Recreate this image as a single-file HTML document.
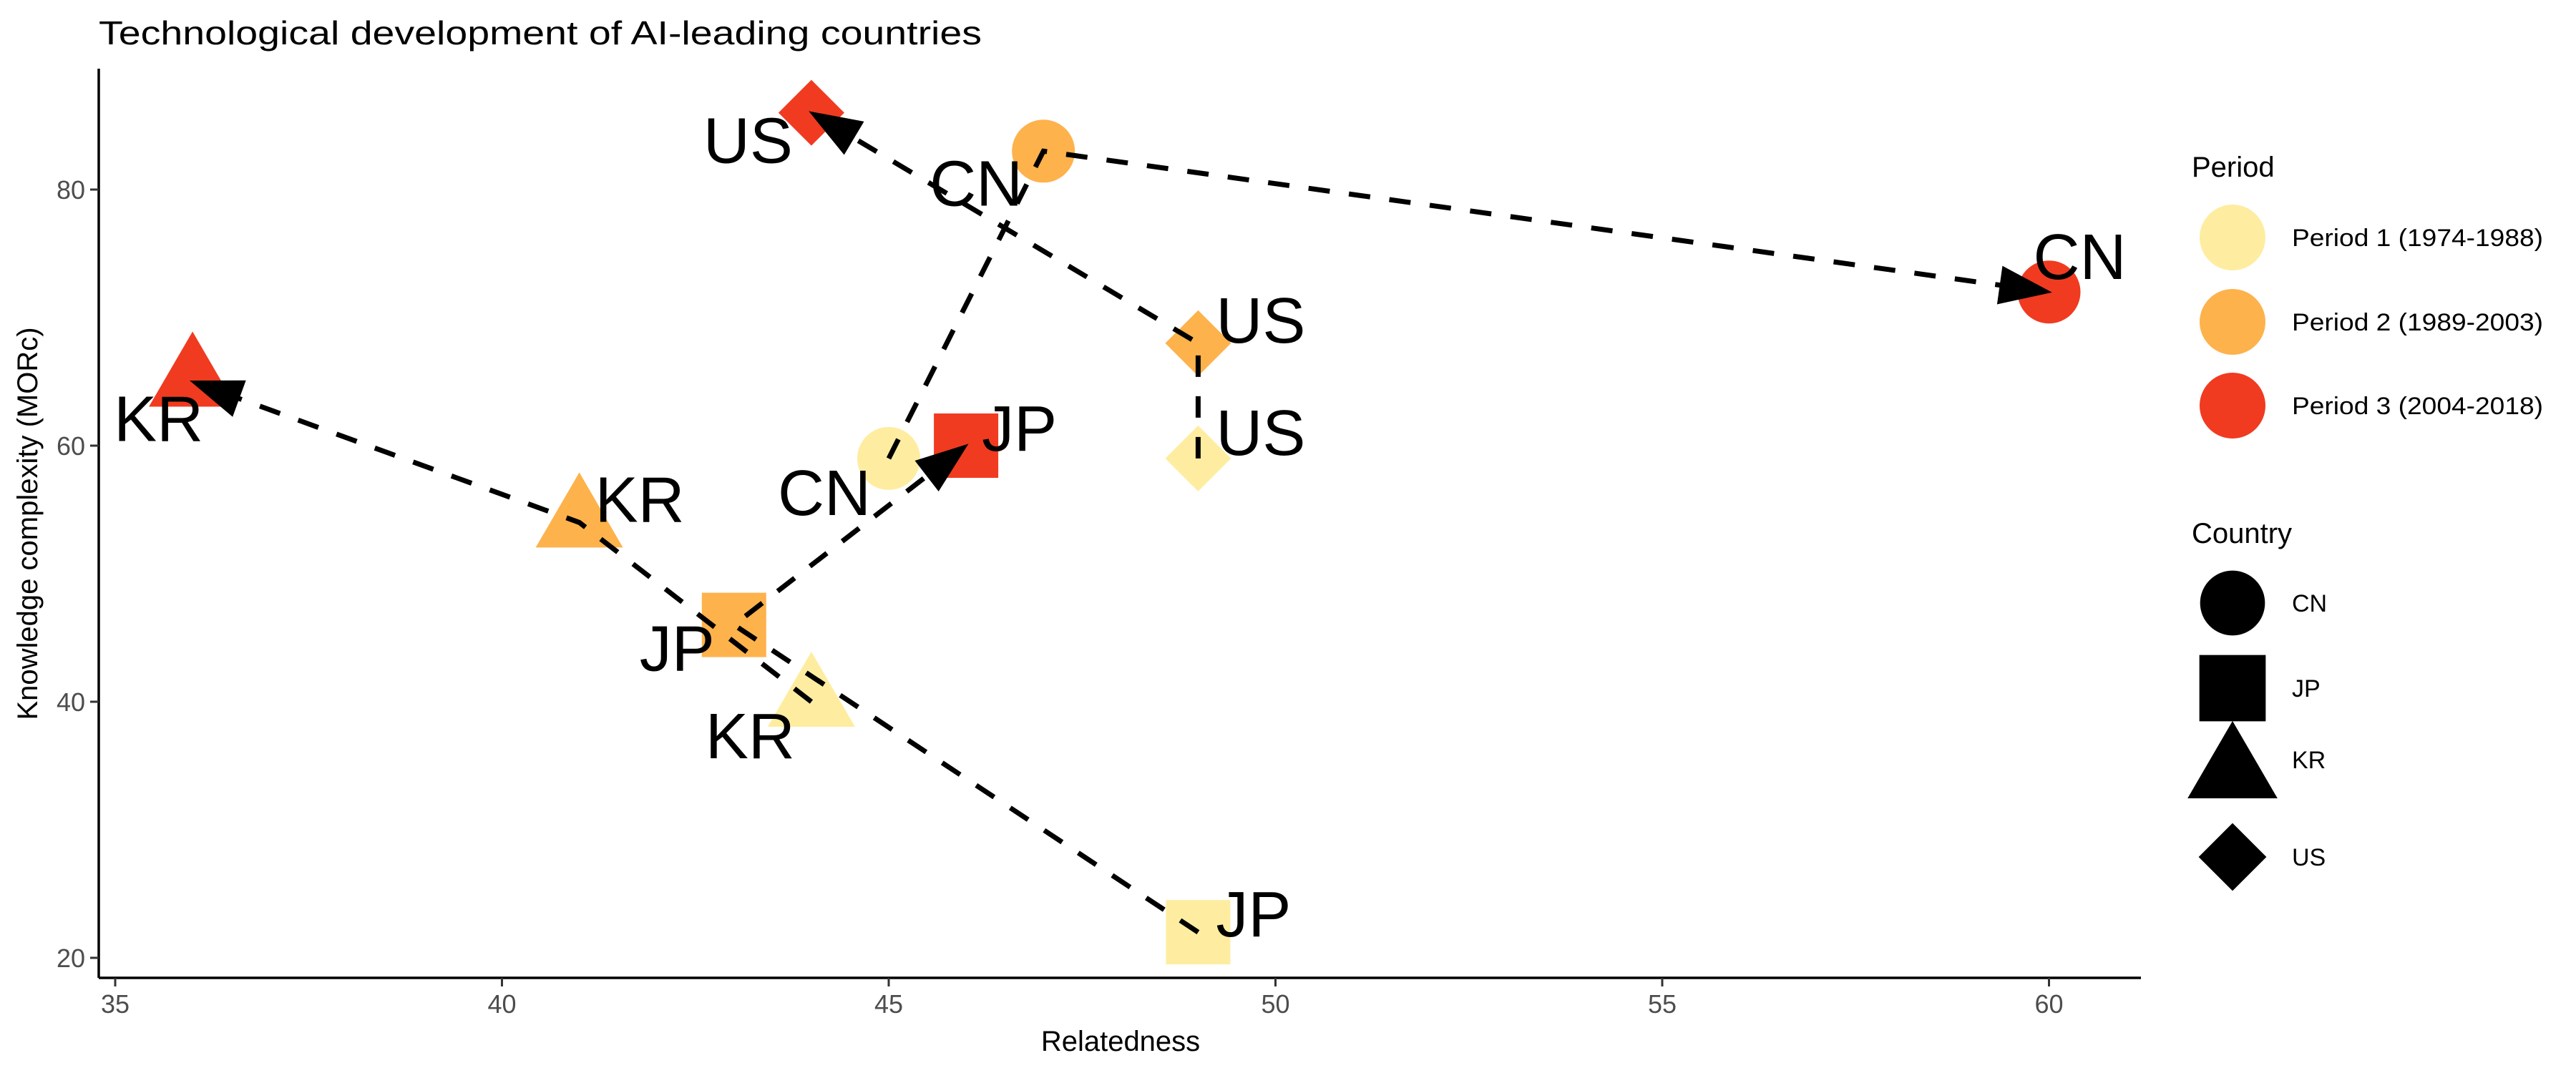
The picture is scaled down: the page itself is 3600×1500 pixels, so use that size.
<!DOCTYPE html>
<html><head><meta charset="utf-8"><style>
html,body{margin:0;padding:0;background:#fff;}
svg{display:block;font-family:"Liberation Sans",sans-serif;}
</style></head><body>
<svg id="chart" width="3600" height="1500" viewBox="0 0 3600 1500" xmlns="http://www.w3.org/2000/svg">
<text x="138" y="62" font-size="46" fill="#000" textLength="1234" lengthAdjust="spacingAndGlyphs">Technological development of AI-leading countries</text>
<g id="plot"></g>
<g id="axes"></g>
<g id="legend"></g>
</svg>
<script>
const countries = ['CN','JP','KR','US'];
const periods = ['Period 1 (1974-1988)','Period 2 (1989-2003)','Period 3 (2004-2018)'];
const relCN = [45, 47, 60];
const morCN = [59, 83, 72];
const relJP = [49, 43, 46];
const morJP = [22, 46, 60];
const relKR = [44, 41, 36];
const morKR = [40, 54, 65];
const relUS = [49, 49, 44];
const morUS = [59, 68, 86];
const xTicks = [35, 40, 45, 50, 55, 60];
const yTicks = [20, 40, 60, 80];

const colors = ['#FEEDA0','#FEB24C','#F03B20'];
// label offsets [dx, dy, anchor] per country per period (styling)
const labelOff = {
  CN: [[-25,79,'end'],[-29,76,'end'],[-22,-18,'start']],
  JP: [[25,6,'start'],[-27,64,'end'],[22,7,'start']],
  KR: [[-23,79,'end'],[22,-1,'start'],[15,83,'end']],
  US: [[25,-5,'start'],[25,-1,'start'],[-26,70,'end']]
};
const rel = {CN:relCN, JP:relJP, KR:relKR, US:relUS};
const mor = {CN:morCN, JP:morJP, KR:morKR, US:morUS};

const X = v => 161 + 108.1*(v-35);
const Y = v => 1339 - 17.9*(v-20);
const NS = 'http://www.w3.org/2000/svg';
function mk(tag, attrs, parent){const e=document.createElementNS(NS,tag);for(const k in attrs)e.setAttribute(k,attrs[k]);parent.appendChild(e);return e;}

function shape(country, cx, cy, fill, parent, scale){
  const s = scale||1;
  let e;
  if(country==='CN'){e=mk('circle',{cx:cx,cy:cy,r:44*s,fill:fill},parent);}
  else if(country==='JP'){const h=45*s;e=mk('rect',{x:cx-h,y:cy-h,width:2*h,height:2*h,fill:fill},parent);}
  else if(country==='KR'){const w=61*s,h=105*s;e=mk('polygon',{points:`${cx},${cy-2*h/3} ${cx+w},${cy+h/3} ${cx-w},${cy+h/3}`,fill:fill},parent);}
  else {const r=46*s;e=mk('polygon',{points:`${cx},${cy-r} ${cx+r},${cy} ${cx},${cy+r} ${cx-r},${cy}`,fill:fill},parent);}
  return e;
}

const plot = document.getElementById('plot');
const axes = document.getElementById('axes');
const legend = document.getElementById('legend');

countries.forEach(c=>{
  for(let p=0;p<3;p++){
    const e = shape(c, X(rel[c][p]), Y(mor[c][p]), colors[p], plot);
    
    
  }
});
countries.forEach(c=>{
  const pts = [0,1,2].map(p=>[X(rel[c][p]), Y(mor[c][p])]);
  const [ax,ay]=pts[1],[bx,by]=pts[2];
  const L = Math.hypot(bx-ax,by-ay), ux=(bx-ax)/L, uy=(by-ay)/L;
  const hl=68, hw=25;
  const path = mk('path',{d:`M${pts[0][0]},${pts[0][1]} L${pts[1][0]},${pts[1][1]} L${bx-ux*hl*0.6},${by-uy*hl*0.6}`,fill:'none',stroke:'#000','stroke-width':7,'stroke-dasharray':'30 27'},plot);
  
  
  const bxp=bx-ux*hl, byp=by-uy*hl;
  const head = mk('polygon',{points:`${bx},${by} ${bxp-uy*hw},${byp+ux*hw} ${bxp+uy*hw},${byp-ux*hw}`,fill:'#000',stroke:'#000','stroke-width':3},plot);
  
  
});
countries.forEach(c=>{
  for(let p=0;p<3;p++){
    const o = labelOff[c][p];
    const t = mk('text',{x:X(rel[c][p])+o[0], y:Y(mor[c][p])+o[1],'font-size':90,'text-anchor':o[2],fill:'#000'},plot);
    t.textContent = c;
    
    
  }
});
let e = mk('line',{x1:138,y1:96,x2:138,y2:1367,stroke:'#000','stroke-width':3.5},axes);


e = mk('line',{x1:138,y1:1367,x2:2992,y2:1367,stroke:'#000','stroke-width':3.5},axes);


xTicks.forEach(v=>{
  const tk = mk('line',{x1:X(v),y1:1367,x2:X(v),y2:1379,stroke:'#333','stroke-width':3},axes);
  
  
  const t = mk('text',{x:X(v),y:1416,'font-size':36,'text-anchor':'middle',fill:'#4d4d4d'},axes);
  t.textContent = v;
  
  
});
yTicks.forEach(v=>{
  const tk = mk('line',{x1:126,y1:Y(v),x2:138,y2:Y(v),stroke:'#333','stroke-width':3},axes);
  
  
  const t = mk('text',{x:119,y:Y(v)+13,'font-size':36,'text-anchor':'end',fill:'#4d4d4d'},axes);
  t.textContent = v;
  
  
});
e = mk('text',{x:1566,y:1469,'font-size':40,'text-anchor':'middle',fill:'#000'},axes);
e.textContent='Relatedness';


e = mk('text',{x:0,y:0,'font-size':40,'text-anchor':'middle',fill:'#000',transform:'translate(52,732) rotate(-90)'},axes);
e.textContent='Knowledge complexity (MORc)';


e = mk('text',{x:3063,y:247,'font-size':40,fill:'#000'},legend);
e.textContent='Period';


const pY=[332,450,567];
periods.forEach((lab,i)=>{
  const k = mk('circle',{cx:3120,cy:pY[i],r:46,fill:colors[i]},legend);
  
  
  const t = mk('text',{x:3203,y:pY[i]+12,'font-size':34,fill:'#000',textLength:351,lengthAdjust:'spacingAndGlyphs'},legend);
  t.textContent=lab;
  
  
});
e = mk('text',{x:3063,y:759,'font-size':40,fill:'#000'},legend);
e.textContent='Country';


const cY=[843,962,1080,1198];
countries.forEach((c,i)=>{
  const k = shape(c,3120,cY[i],'#000',legend,1.03);
  
  
  const t = mk('text',{x:3203,y:(c==='KR'?1062:cY[i])+12,'font-size':34,fill:'#000'},legend);
  t.textContent=c;
  
  
});
</script>
</body></html>
